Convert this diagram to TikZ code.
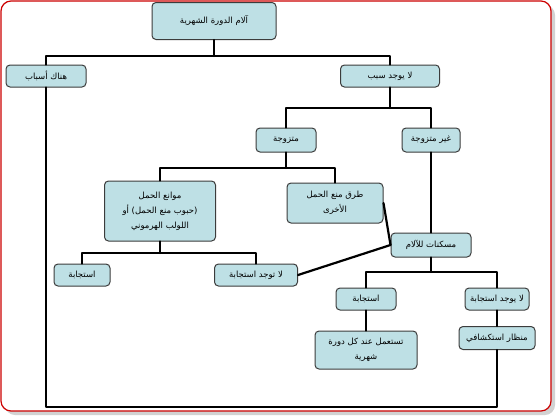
\documentclass[tikz,border=0pt]{standalone}
\usepackage{fontspec}
\TeXXeTstate=1
\newfontfamily\arabicfont[Script=Arabic]{DejaVu Sans}
\usetikzlibrary{arrows}
\definecolor{boxfill}{RGB}{190,224,229}
\definecolor{boxedge}{RGB}{60,60,60}
\definecolor{framered}{RGB}{204,0,0}
\newcommand{\ar}[1]{\beginR #1\endR}

\begin{document}
\begin{tikzpicture}[x=1pt,y=-1pt,line cap=round,line join=round,
  box/.style={draw=boxedge,fill=boxfill,rounded corners=4pt,line width=1pt,align=center,inner sep=1pt,
    font=\arabicfont\fontsize{8.5}{15}\selectfont},
  link/.style={line width=2.2pt,black}]
\useasboundingbox (0,0) rectangle (557,418);
\fill[gray!35,rounded corners=10pt] (5,5) rectangle (555,415);
\draw[framered,fill=white,line width=1.2pt,rounded corners=10pt] (1,1) rectangle (551,411);
\node[box,minimum width=124pt,minimum height=37pt] (top) at (214,21) {\ar{آلام الدورة الشهرية}};
\node[box,minimum width=80pt,minimum height=22pt] (asbab) at (46,76) {\ar{هناك أسباب}};
\node[box,minimum width=99pt,minimum height=22pt] (nosabab) at (390,76) {\ar{لا يوجد سبب}};
\node[box,minimum width=60pt,minimum height=24pt] (married) at (286,140) {\ar{متزوجة}};
\node[box,minimum width=58pt,minimum height=24pt] (single) at (431,140) {\ar{غير متزوجة}};
\node[box,minimum width=111pt,minimum height=60pt] (pills) at (160,211) {\ar{موانع الحمل}\\\ar{(حبوب منع الحمل) أو}\\\ar{اللولب الهرموني}};
\node[box,minimum width=96pt,minimum height=40pt] (other) at (335,203) {\ar{طرق منع الحمل}\\\ar{الأخرى}};
\node[box,minimum width=80pt,minimum height=24pt] (analg) at (431,245) {\ar{مسكنات للآلام}};
\node[box,minimum width=56pt,minimum height=22pt] (resp1) at (82,275) {\ar{استجابة}};
\node[box,minimum width=83pt,minimum height=22pt] (noresp1) at (256,275) {\ar{لا توجد استجابة}};
\node[box,minimum width=60pt,minimum height=22pt] (resp2) at (366,299) {\ar{استجابة}};
\node[box,minimum width=64pt,minimum height=22pt] (noresp2) at (497,299) {\ar{لا يوجد استجابة}};
\node[box,minimum width=102pt,minimum height=38pt] (monthly) at (366,350) {\ar{تستعمل عند كل دورة}\\\ar{شهرية}};
\node[box,minimum width=76pt,minimum height=23pt] (scope) at (497,338) {\ar{منظار استكشافي}};
\coordinate (j1) at (214,56);
\coordinate (j2) at (390,108);
\coordinate (j3) at (286,168);
\coordinate (j4) at (160,253);
\coordinate (j5) at (431,272);
\coordinate (j6) at (200,407);
\draw[link] (top.south) -- (j1);
\draw[link] (asbab.north) |- (j1) -| (nosabab.north);
\draw[link] (nosabab.south) -- (j2);
\draw[link] (married.north) |- (j2) -| (single.north);
\draw[link] (married.south) -- (j3);
\draw[link] (pills.north) |- (j3) -| (other.north);
\draw[link] (pills.south) -- (j4);
\draw[link] (resp1.north) |- (j4) -| (noresp1.north);
\draw[link] (single.south) -- (analg.north);
\draw[link] (other.east) -- (analg.west);
\draw[link] (noresp1.east) -- (analg.west);
\draw[link] (analg.south) -- (j5);
\draw[link] (resp2.north) |- (j5) -| (noresp2.north);
\draw[link] (resp2.south) -- (monthly.north);
\draw[link] (noresp2.south) -- (scope.north);
\draw[link] (asbab.south) |- (j6) -| (scope.south);
\end{tikzpicture}
\end{document}
